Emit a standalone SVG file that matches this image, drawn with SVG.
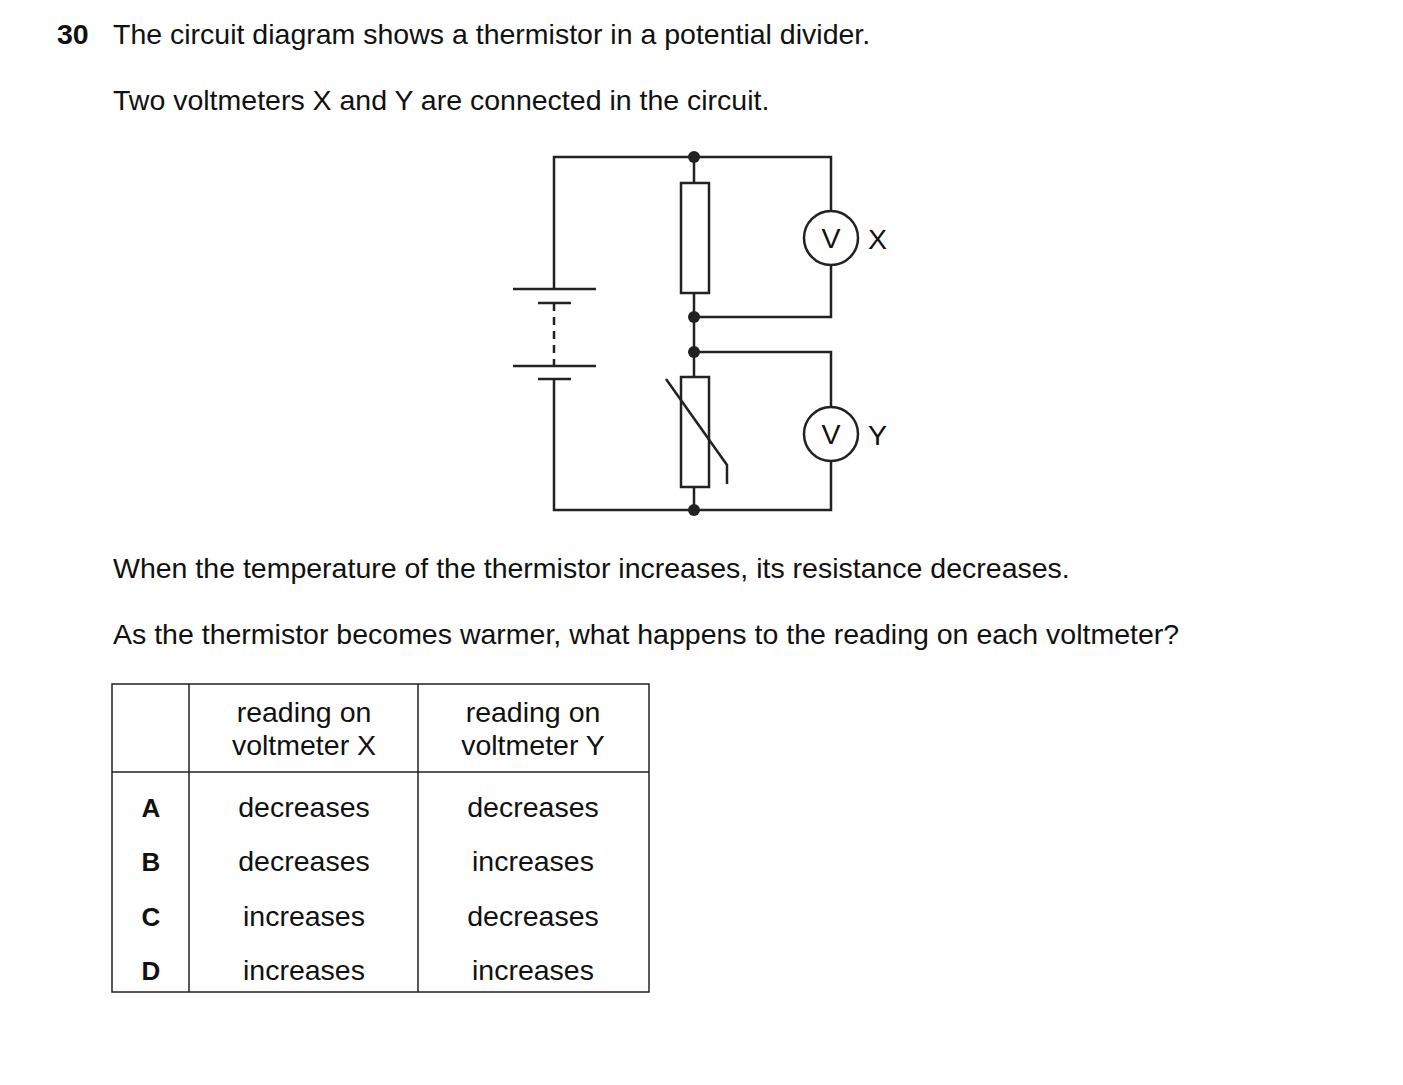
<svg xmlns="http://www.w3.org/2000/svg" width="1403" height="1085" viewBox="0 0 1403 1085">
<style>
text{font-family:"Liberation Sans",Arial,sans-serif;font-size:28.5px;fill:#111}
.c{text-anchor:middle}
.b{font-weight:bold}
.w{fill:none;stroke:#222;stroke-width:2.5}
.t{fill:none;stroke:#222;stroke-width:1.5}
</style>
<rect width="1403" height="1085" fill="#fff"/>
<text x="57" y="44" class="b">30</text>
<text x="113" y="44">The circuit diagram shows a thermistor in a potential divider.</text>
<text x="113" y="110">Two voltmeters X and Y are connected in the circuit.</text>
<g id="connectors" class="w">
<path d="M554 289V157H831V211M831 265V317H694M694 157V183M694 293V377M694 352H831V407M831 461V510H554V379M694 487V510"/>
<path d="M554 303V365" stroke-dasharray="8 6"/>
</g>
<g id="battery" class="w">
<path d="M513 289H596M538 303H571M513 366H596M538 379H571"/>
</g>
<g id="resistor"><rect x="681" y="183" width="28" height="110" class="w"/></g>
<g id="thermistor" class="w"><rect x="681" y="377" width="28" height="110"/><path d="M666 379L727 465V484"/></g>
<g id="junctions" fill="#222">
<circle cx="694" cy="157" r="6"/><circle cx="694" cy="317" r="6"/><circle cx="694" cy="352" r="6"/><circle cx="694" cy="510" r="6"/>
</g>
<g id="voltmeterX"><circle cx="831" cy="238" r="27" class="w"/><text x="831" y="248" class="c">V</text><text x="868" y="249">X</text></g>
<g id="voltmeterY"><circle cx="831" cy="434" r="27" class="w"/><text x="831" y="444" class="c">V</text><text x="868" y="445">Y</text></g>
<text x="113" y="578">When the temperature of the thermistor increases, its resistance decreases.</text>
<text x="113" y="644">As the thermistor becomes warmer, what happens to the reading on each voltmeter?</text>
<g id="table">
<rect x="112" y="684" width="537" height="308" class="t"/>
<path d="M189 684V992M418 684V992M112 772H649" class="t"/>
<text x="304" y="722" class="c">reading on</text><text x="304" y="755" class="c">voltmeter X</text>
<text x="533" y="722" class="c">reading on</text><text x="533" y="755" class="c">voltmeter Y</text>
<text x="151" y="817" class="c b" style="font-size:26px">A</text><text x="304" y="817" class="c">decreases</text><text x="533" y="817" class="c">decreases</text>
<text x="151" y="871" class="c b" style="font-size:26px">B</text><text x="304" y="871" class="c">decreases</text><text x="533" y="871" class="c">increases</text>
<text x="151" y="926" class="c b" style="font-size:26px">C</text><text x="304" y="926" class="c">increases</text><text x="533" y="926" class="c">decreases</text>
<text x="151" y="980" class="c b" style="font-size:26px">D</text><text x="304" y="980" class="c">increases</text><text x="533" y="980" class="c">increases</text>
</g>
</svg>
